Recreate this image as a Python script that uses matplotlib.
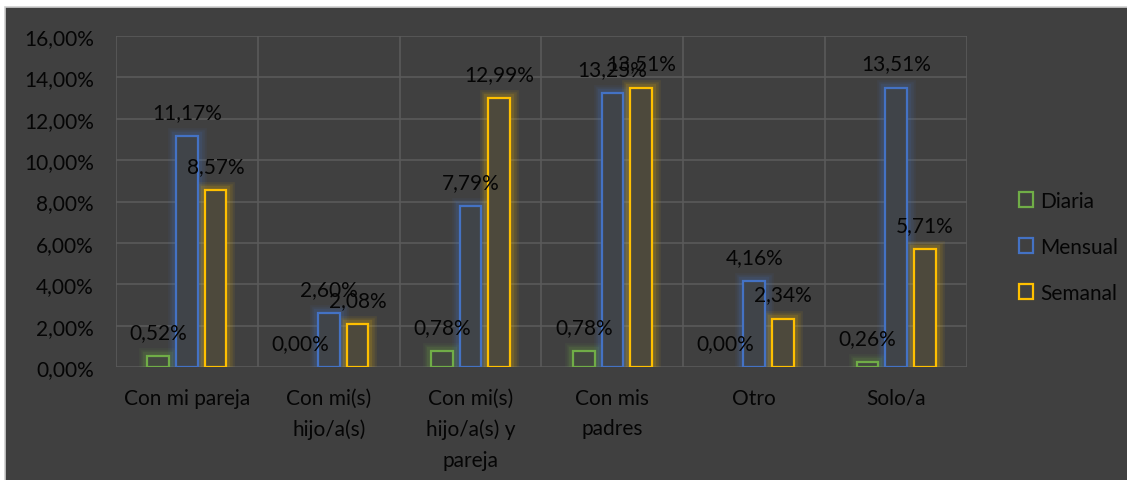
import numpy as np
import matplotlib
matplotlib.use('Agg')
import matplotlib.pyplot as plt
from matplotlib.colors import to_rgb
from matplotlib.patches import Rectangle, Patch

categories = ['Con mi pareja', 'Con mi(s)\nhijo/a(s)', 'Con mi(s)\nhijo/a(s) y\npareja',
              'Con mis\npadres', 'Otro', 'Solo/a']
diaria = [0.52, 0.00, 0.78, 0.78, 0.00, 0.26]
mensual = [11.17, 2.60, 7.79, 13.25, 4.16, 13.51]
semanal = [8.57, 2.08, 12.99, 13.51, 2.34, 5.71]
series = [('Diaria', diaria, '#70AD47'), ('Mensual', mensual, '#4472C4'), ('Semanal', semanal, '#FFC000')]
yticks = np.arange(0, 17, 2)

BG = '#404040'
GRID = '#5a5a5a'
TXT = '#050505'
FS = 15

plt.rcParams['font.family'] = ['Lato', 'DejaVu Sans']
plt.rcParams['font.size'] = FS

W, H = 1127, 481
fig = plt.figure(figsize=(W / 100, H / 100), dpi=100, facecolor='white')
fig.patches.append(Rectangle((4.5 / W, -0.01), 1.02, 1 - 7.5 / H + 0.01, transform=fig.transFigure,
                             facecolor=BG, edgecolor='#cfcfcf', lw=1.2, zorder=-10))

ax = fig.add_axes([116 / W, 1 - 368 / H, (967 - 116) / W, (368 - 37) / H])
ax.set_facecolor(BG)

x = np.arange(len(categories))
width = 0.152
step = 0.202


def tint(color, k):
    c, b = np.array(to_rgb(color)), np.array(to_rgb(BG))
    return tuple(b + (c - b) * k)


for i, (name, vals, color) in enumerate(series):
    pos = x + (i - 1) * step
    shown = np.array(vals) > 0
    # soft halo: stacked translucent outlines under the bar
    for lw, a in [(12, 0.07), (9, 0.09), (6, 0.13)]:
        ax.bar(pos[shown], np.array(vals)[shown], width, fill=False, edgecolor=color,
               linewidth=lw, alpha=a, zorder=2)
    ax.bar(pos[shown], np.array(vals)[shown], width, facecolor=tint(color, 0.07),
           edgecolor=color, linewidth=1.6, zorder=3)
    for px, v in zip(pos, vals):
        ax.annotate(f'{v:.2f}%'.replace('.', ','), (px, v), xytext=(0, 18), textcoords='offset pixels',
                    ha='center', va='baseline', color=TXT, fontsize=FS, zorder=5)

ax.set_xlim(-0.5, len(categories) - 0.5)
ax.set_ylim(0, 16)
ax.set_yticks(yticks)
ax.set_yticklabels([f'{t:.2f}%'.replace('.', ',') for t in yticks])
ax.set_xticks(x)
ax.set_xticklabels(categories, linespacing=1.65)
ax.set_xticks(np.arange(-0.5, len(categories)), minor=True)
ax.tick_params(axis='both', which='both', length=0, colors=TXT, labelsize=FS)
ax.tick_params(axis='y', pad=16)
ax.tick_params(axis='x', pad=15)
ax.grid(axis='y', which='major', color=GRID, lw=1.2, zorder=0)
ax.grid(axis='x', which='minor', color=GRID, lw=1.2, zorder=0)
for s in ax.spines.values():
    s.set_visible(False)

handles = [Patch(facecolor=BG, edgecolor=c, lw=1.6, label=n) for n, _, c in series]
leg = fig.legend(handles=handles, loc='center left', bbox_to_anchor=(1000 / W, 1 - 248 / H),
                 frameon=False, handlelength=0.7, handleheight=0.7, handletextpad=0.35,
                 labelspacing=1.25, fontsize=FS)
for t in leg.get_texts():
    t.set_color(TXT)

fig.savefig('out.png', dpi=100, facecolor=fig.get_facecolor())
